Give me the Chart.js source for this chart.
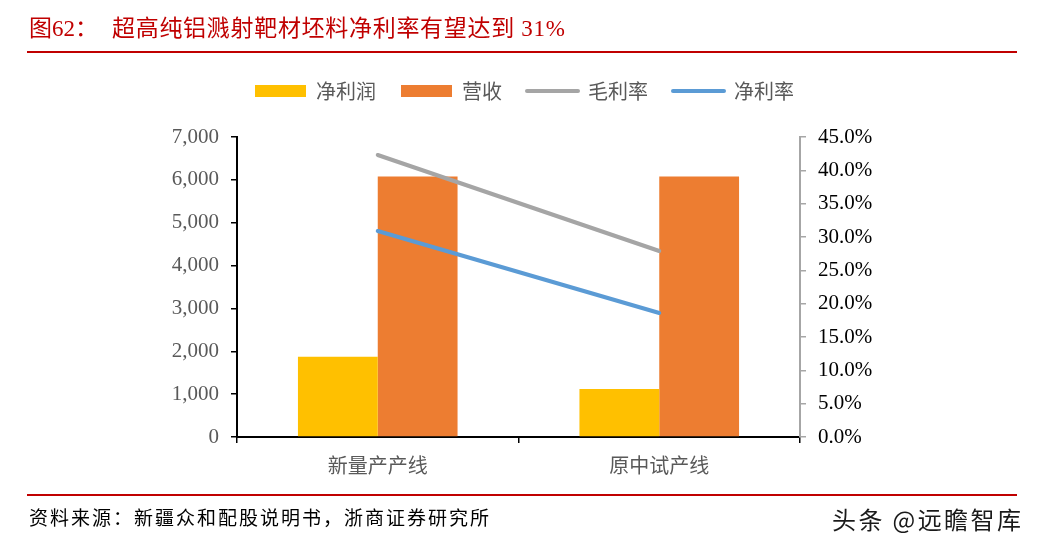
<!DOCTYPE html>
<html>
<head>
<meta charset="utf-8">
<script src="https://cdn.jsdelivr.net/npm/chart.js@4.4.1/dist/chart.umd.min.js"></script>
<style>
  html, body { margin: 0; padding: 0; background: #fff; }
  #wrap { position: relative; width: 1037px; height: 545px; overflow: hidden; background: #fff; }
  #c { position: absolute; left: 0; top: 0; }
  .txt { position: absolute; white-space: nowrap; pointer-events: none; }
  .rule { position: absolute; background: #C00000; }
</style>
</head>
<body>
<div id="wrap">
  <canvas id="c" width="1037" height="545"></canvas>
  <div class="txt" style="left:29px; top:16px; line-height:26px; font-size:23px; color:#C00000; font-family:'Liberation Serif','Noto Sans CJK SC',serif;">图62：</div>
  <div class="txt" style="left:112px; top:16px; line-height:26px; font-size:23px; letter-spacing:0.7px; color:#C00000; font-family:'Liberation Serif','Noto Sans CJK SC',serif;">超高纯铝溅射靶材坯料净利率有望达到 31%</div>
  <div class="rule" style="left:27px; top:51px; width:990px; height:2px;"></div>
  <div class="rule" style="left:27px; top:494px; width:990px; height:2px;"></div>
  <div class="txt" style="left:29px; top:505px; line-height:24px; font-size:19px; letter-spacing:2px; color:#000; font-family:'Noto Sans CJK SC',sans-serif;">资料来源：新疆众和配股说明书，浙商证券研究所</div>
  <div class="txt" style="left:832px; top:504px; line-height:30px; font-size:24px; letter-spacing:2.4px; color:#1a1a1a; font-family:'Noto Sans CJK SC',sans-serif;">头条 @远瞻智库</div>
</div>
<script>
// ---- data ----
const categories = ['新量产产线', '原中试产线'];
const netProfit = [1870, 1120];      // 净利润
const revenue = [6080, 6080];        // 营收
const grossMargin = [42.3, 27.9];    // 毛利率 (%)
const netMargin = [30.9, 18.6];      // 净利率 (%)
const leftTickValues = [0, 1000, 2000, 3000, 4000, 5000, 6000, 7000];
const rightTickValues = [0, 5, 10, 15, 20, 25, 30, 35, 40, 45];
const seriesNames = ['净利润', '营收', '毛利率', '净利率'];

const serif = "'Liberation Serif', 'Noto Sans CJK SC', serif";
const cjk = "'Noto Sans CJK SC', sans-serif";
Chart.defaults.font.family = serif;

const fixLegend = {
  id: 'fixLegend',
  afterInit(chart) {
    const lg = chart.legend;
    if (lg) {
      const origFit = lg.fit;
      lg.fit = function () { origFit.call(this); this.height = 81; };
    }
  }
};

new Chart(document.getElementById('c'), {
  type: 'bar',
  data: {
    labels: categories,
    datasets: [
      { label: seriesNames[0], data: netProfit, backgroundColor: '#FFC000', borderWidth: 0, yAxisID: 'y', order: 1,
        categoryPercentage: 0.567, barPercentage: 1.0 },
      { label: seriesNames[1], data: revenue, backgroundColor: '#ED7D31', borderWidth: 0, yAxisID: 'y', order: 1,
        categoryPercentage: 0.567, barPercentage: 1.0 },
      { type: 'line', label: seriesNames[2], data: grossMargin, borderColor: '#A5A5A5', backgroundColor: '#A5A5A5',
        borderWidth: 4, borderCapStyle: 'round', pointRadius: 0, tension: 0, yAxisID: 'y1', order: 0 },
      { type: 'line', label: seriesNames[3], data: netMargin, borderColor: '#5B9BD5', backgroundColor: '#5B9BD5',
        borderWidth: 4, borderCapStyle: 'round', pointRadius: 0, tension: 0, yAxisID: 'y1', order: 0 }
    ]
  },
  options: {
    responsive: false,
    animation: false,
    events: [],
    layout: { padding: { left: 12, top: 56, right: 0, bottom: 0 } },
    plugins: {
      tooltip: { enabled: false },
      title: { display: false },
      legend: {
        display: true,
        position: 'top',
        align: 'center',
        labels: {
          usePointStyle: true,
          pointStyleWidth: 51,
          boxWidth: 51,
          boxHeight: 12,
          padding: 25,
          color: '#595959',
          font: { family: cjk, size: 20 },
          sort: (a, b) => a.datasetIndex - b.datasetIndex,
          generateLabels(chart) {
            const items = Chart.defaults.plugins.legend.labels.generateLabels(chart);
            return items.map(it => {
              const ds = chart.data.datasets[it.datasetIndex];
              if (ds.type === 'line') {
                it.pointStyle = 'line';
                it.lineWidth = 4;
                it.strokeStyle = ds.borderColor;
                it.lineCap = 'round';
              } else {
                it.pointStyle = 'rect';
                it.lineWidth = 0;
                it.fillStyle = ds.backgroundColor;
              }
              return it;
            });
          }
        }
      }
    },
    scales: {
      x: {
        type: 'category',
        offset: true,
        grid: { display: true, offset: true, drawOnChartArea: false, drawTicks: true, tickLength: 6, color: '#000', lineWidth: 1.5 },
        border: { display: true, color: '#000', width: 2 },
        ticks: { color: '#595959', font: { family: cjk, size: 20 }, padding: 10, maxRotation: 0 },
        afterFit(s) { s.height = 108; }
      },
      y: {
        position: 'left',
        min: 0, max: 7000,
        afterBuildTicks(s) { s.ticks = leftTickValues.map(v => ({ value: v })); },
        grid: { display: true, drawOnChartArea: false, drawTicks: true, tickLength: 6, color: '#000', lineWidth: 1.5 },
        border: { display: true, color: '#000', width: 2 },
        ticks: { color: '#595959', font: { family: serif, size: 21 }, padding: 12,
          callback: v => Number(v).toLocaleString('en-US') },
        afterFit(s) { s.width = 225; }
      },
      y1: {
        position: 'right',
        min: 0, max: 45,
        afterBuildTicks(s) { s.ticks = rightTickValues.map(v => ({ value: v })); },
        grid: { display: true, drawOnChartArea: false, drawTicks: true, tickLength: 6, color: '#A6A6A6', lineWidth: 1.5 },
        border: { display: true, color: '#A6A6A6', width: 2 },
        ticks: { color: '#000', font: { family: serif, size: 21 }, padding: 12,
          callback: v => Number(v).toFixed(1) + '%' },
        afterFit(s) { s.width = 237; }
      }
    }
  },
  plugins: [fixLegend]
});
</script>
</body>
</html>
